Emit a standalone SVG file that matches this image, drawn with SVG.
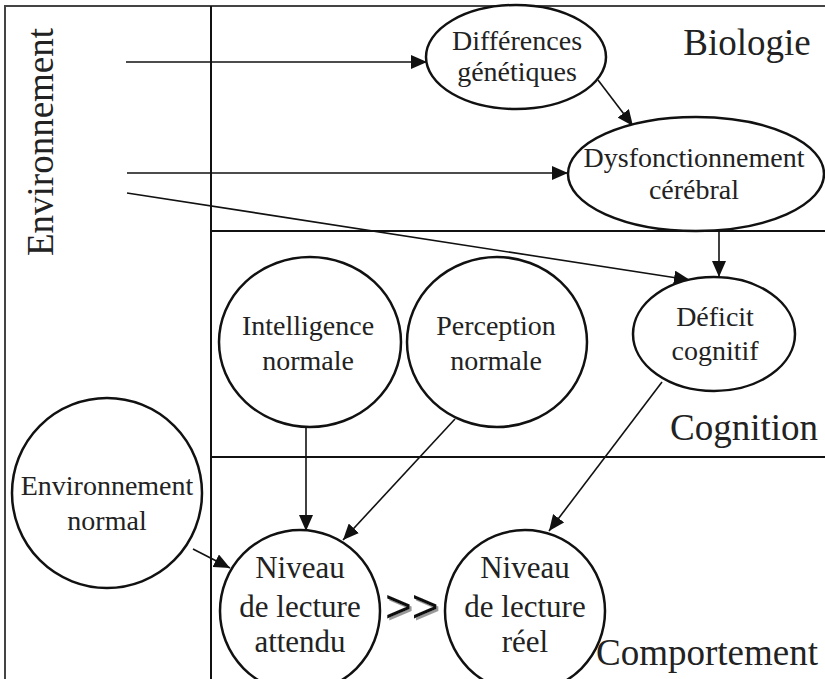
<svg xmlns="http://www.w3.org/2000/svg" width="825" height="679" viewBox="0 0 825 679">
<style>
.frame{stroke:#444;stroke-width:2;fill:none}
.div{stroke:#111;stroke-width:2;fill:none}
.node{fill:#fff;stroke:#111;stroke-width:2.5}
.t{fill:#222;text-anchor:middle}
.n{font-size:28px}
.big{font-size:37px}
.c{stroke:#111;stroke-width:1.6;fill:none}
</style>
<defs>
<marker id="ah" markerUnits="userSpaceOnUse" markerWidth="16" markerHeight="14" viewBox="0 0 16 14" refX="16" refY="7" orient="auto">
<path d="M0,0 L16,7 L0,14 Z" fill="#111"/>
</marker>
<filter id="sh" x="-10%" y="-10%" width="130%" height="130%">
<feDropShadow dx="2" dy="2" stdDeviation="0.6" flood-color="#999"/>
</filter>
</defs>
<rect width="825" height="679" fill="#fff"/>
<g font-family="'Liberation Serif', 'Times New Roman', serif">
<g id="frame">
<path class="frame" d="M5,679 V6 H825"/>
<path class="div" d="M211,6 V679 M211,231 H825 M211,457 H825"/>
<text class="t big" transform="translate(53,142) rotate(-90)">Environnement</text>
<text class="t big" x="747" y="55">Biologie</text>
<text class="t big" x="744" y="440">Cognition</text>
<text class="t big" x="707" y="665">Comportement</text>
</g>
<g id="connectors">
<line class="c" x1="126" y1="62" x2="427" y2="62" marker-end="url(#ah)"/>
<line class="c" x1="127" y1="173" x2="568" y2="173" stroke-width="4" marker-end="url(#ah)"/>
<line class="c" x1="127" y1="193" x2="690" y2="280" marker-end="url(#ah)"/>
<line class="c" x1="598" y1="80" x2="633" y2="126" marker-end="url(#ah)"/>
<line class="c" x1="719" y1="231" x2="719" y2="277" marker-end="url(#ah)"/>
<line class="c" x1="306" y1="427" x2="306" y2="531" marker-end="url(#ah)"/>
<line class="c" x1="455" y1="419" x2="343" y2="540" marker-end="url(#ah)"/>
<line class="c" x1="662" y1="382" x2="549" y2="531" marker-end="url(#ah)"/>
<line class="c" x1="193" y1="549" x2="230" y2="568" marker-end="url(#ah)"/>
</g>
<g id="diff">
<ellipse class="node" cx="516" cy="57" rx="90" ry="52"/>
<text class="t n" x="517" y="50">Différences</text>
<text class="t n" x="517" y="81">génétiques</text>
</g>
<g id="dysf">
<ellipse class="node" cx="696" cy="174" rx="128" ry="57"/>
<text class="t n" x="694" y="167">Dysfonctionnement</text>
<text class="t n" x="694" y="199">cérébral</text>
</g>
<g id="deficit">
<ellipse class="node" cx="714" cy="334" rx="81" ry="57"/>
<text class="t n" x="715" y="326">Déficit</text>
<text class="t n" x="715" y="360">cognitif</text>
</g>
<g id="intel">
<ellipse class="node" cx="310" cy="342" rx="91" ry="85"/>
<text class="t n" x="308" y="335">Intelligence</text>
<text class="t n" x="308" y="370">normale</text>
</g>
<g id="percep">
<ellipse class="node" cx="497" cy="342" rx="90" ry="85"/>
<text class="t n" x="496" y="335">Perception</text>
<text class="t n" x="496" y="370">normale</text>
</g>
<g id="envnorm">
<ellipse class="node" cx="107" cy="493" rx="95" ry="95"/>
<text class="t n" x="107" y="495">Environnement</text>
<text class="t n" x="107" y="530">normal</text>
</g>
<g id="attendu">
<ellipse class="node" cx="300" cy="611" rx="80" ry="81"/>
<text class="t" x="300" y="578" font-size="31">Niveau</text>
<text class="t" x="300" y="617" font-size="31">de lecture</text>
<text class="t" x="300" y="652" font-size="31">attendu</text>
</g>
<g id="reel">
<ellipse class="node" cx="525" cy="611" rx="80" ry="81"/>
<text class="t" x="525" y="578" font-size="31">Niveau</text>
<text class="t" x="525" y="617" font-size="31">de lecture</text>
<text class="t" x="525" y="652" font-size="31">réel</text>
</g>
</g>
<g id="gt">
<text x="385" y="622" font-family="'Liberation Sans', Arial, sans-serif" font-size="46" fill="#111" filter="url(#sh)">&gt;&gt;</text>
</g>
</svg>
